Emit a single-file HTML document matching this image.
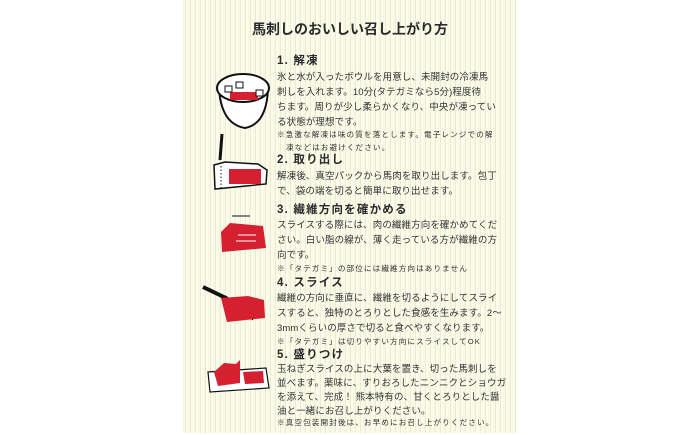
<!DOCTYPE html>
<html><head><meta charset="utf-8"><style>
html,body{margin:0;padding:0;background:#fff;}
body{width:700px;height:435px;position:relative;overflow:hidden;font-family:"Liberation Sans","Noto Sans CJK JP",sans-serif;color:#333;}
#panel{position:absolute;left:183px;top:0;width:333px;height:433px;
background:repeating-linear-gradient(90deg,#f8f8e4 0px,#f8f8e4 2px,#eaeed0 2px,#eaeed0 3px,#fbfbee 3px,#fbfbee 5px);}
.t{position:absolute;white-space:nowrap;}
.title{left:252px;top:19px;font-size:14px;font-weight:bold;color:#2a2a2a;}
.h{left:277px;font-size:11.5px;font-weight:bold;letter-spacing:1.2px;color:#2a2a2a;}
.b{left:277px;font-size:9.5px;letter-spacing:0.1px;}
.n{left:277px;font-size:7.6px;letter-spacing:1.1px;}
svg{position:absolute;left:0;top:0;}
</style></head><body>
<div id="panel"></div>
<svg width="700" height="435">
 <path d="M219 88 Q221 124 245 128 Q267 124 268 88" fill="#fff" stroke="#111" stroke-width="2"/>
 <ellipse cx="243" cy="88" rx="26" ry="14" fill="#fff" stroke="#111" stroke-width="2"/>
 <rect x="230" y="92" width="28" height="8" fill="#d42030"/>
 <rect x="225" y="86" width="7" height="6" fill="#fff" stroke="#111"/>
 <rect x="236" y="82" width="7" height="6" fill="#fff" stroke="#111"/>
 <rect x="256" y="90" width="7" height="6" fill="#fff" stroke="#111"/>
 <path d="M222 134 L220 160" stroke="#111" stroke-width="3"/>
 <path d="M214 165 L225 162 L258 164 L267 170 L266 184 L215 189 Z" fill="#fff" stroke="#111" stroke-width="1.5"/>
 <line x1="221" y1="166" x2="221" y2="188" stroke="#111" stroke-dasharray="1.5,2"/>
 <rect x="229" y="169" width="32" height="15" fill="#d42030"/>
 <line x1="232" y1="216" x2="250" y2="216" stroke="#111"/>
 <path d="M221 232 L230 223 L263 226 L266 248 L222 252 Z" fill="#d42030"/>
 <path d="M238 235h18M236 241h20" stroke="#fff"/>
 <path d="M203 287 L226 298" stroke="#111" stroke-width="4"/>
 <path d="M226 296 L250 316 L253 320 L232 305 Z" fill="#fff" stroke="#111"/>
 <path d="M221 298 L248 296 L264 300 L265 318 L227 322 Z" fill="#d42030"/>
 <path d="M208 372 L266 368 L269 388 L210 392 Z" fill="#fff" stroke="#111" stroke-width="1.2"/>
 <path d="M214 372 L224 363 L236 364 L240 360 L240 383 L218 386 Z" fill="#d42030"/>
 <path d="M243 372 L263 371 L264 383 L245 384 Z" fill="#d42030"/>
</svg>
<div class="t title">馬刺しのおいしい召し上がり方</div>

<div class="t h" style="top:52px">1. 解凍</div>
<div class="t b" style="top:69px">氷と水が入ったボウルを用意し、未開封の冷凍馬</div>
<div class="t b" style="top:84px">刺しを入れます。10分(タテガミなら5分)程度待</div>
<div class="t b" style="top:99px">ちます。周りが少し柔らかくなり、中央が凍ってい</div>
<div class="t b" style="top:114px">る状態が理想です。</div>
<div class="t n" style="top:129px">※急激な解凍は味の質を落とします。電子レンジでの解</div>
<div class="t n" style="top:142px;left:286px">凍などはお避けください。</div>

<div class="t h" style="top:151px">2. 取り出し</div>
<div class="t b" style="top:168px">解凍後、真空パックから馬肉を取り出します。包丁</div>
<div class="t b" style="top:183px">で、袋の端を切ると簡単に取り出せます。</div>

<div class="t h" style="top:201px">3. 繊維方向を確かめる</div>
<div class="t b" style="top:217px">スライスする際には、肉の繊維方向を確かめてくだ</div>
<div class="t b" style="top:232px">さい。白い脂の線が、薄く走っている方が繊維の方</div>
<div class="t b" style="top:247px">向です。</div>
<div class="t n" style="top:263px">※「タテガミ」の部位には繊維方向はありません</div>

<div class="t h" style="top:274px">4. スライス</div>
<div class="t b" style="top:290px">繊維の方向に垂直に、繊維を切るようにしてスライ</div>
<div class="t b" style="top:305px">スすると、独特のとろりとした食感を生みます。2～</div>
<div class="t b" style="top:320px">3mmくらいの厚さで切ると食べやすくなります。</div>
<div class="t n" style="top:336px">※「タテガミ」は切りやすい方向にスライスしてOK</div>

<div class="t h" style="top:346px">5. 盛りつけ</div>
<div class="t b" style="top:361px">玉ねぎスライスの上に大葉を置き、切った馬刺しを</div>
<div class="t b" style="top:375px">並べます。薬味に、すりおろしたニンニクとショウガ</div>
<div class="t b" style="top:389px">を添えて、完成！ 熊本特有の、甘くとろりとした醤</div>
<div class="t b" style="top:403px">油と一緒にお召し上がりください。</div>
<div class="t n" style="top:417px">※真空包装開封後は、お早めにお召し上がりください。</div>
</body></html>
